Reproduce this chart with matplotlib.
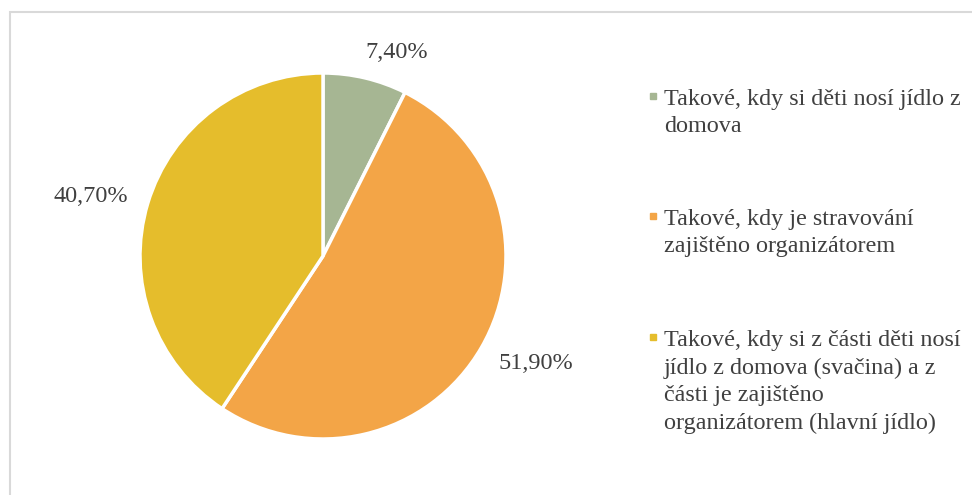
import numpy as np
import matplotlib.pyplot as plt
from matplotlib.patches import Rectangle

plt.rcParams['font.family'] = ['Liberation Serif', 'DejaVu Serif']

# share of each meal arrangement (%)
categories = [
    'Takové, kdy si děti nosí jídlo z\ndomova',
    'Takové, kdy je stravování\nzajištěno organizátorem',
    'Takové, kdy si z části děti nosí\njídlo z domova (svačina) a z\nčásti je zajištěno\norganizátorem (hlavní jídlo)',
]
shares = [7.40, 51.90, 40.70]
value_labels = ['7,40%', '51,90%', '40,70%']
colors = ['#A6B693', '#F3A547', '#E5BD2C']

# label radius and angular nudge (deg) for each value label
label_dist = [1.18, 1.30, 1.31]
label_nudge = [-6.5, 3.3, 2.4]

text_color = '#404040'

fig = plt.figure(figsize=(9.72, 4.95), dpi=100)
fig.patches.append(Rectangle((10 / 972, -0.1), 1.2, (495 - 12) / 495 + 0.1,
                             transform=fig.transFigure, fill=False,
                             edgecolor='#D9D9D9', linewidth=1.5))

ax = fig.add_axes([(323 - 183) / 972, (495 - 256 - 183) / 495, 366 / 972, 366 / 495])
wedges, _ = ax.pie(shares, colors=colors, startangle=90, counterclock=False,
                   wedgeprops=dict(edgecolor='white', linewidth=2.5))
ax.set_xlim(-1, 1)
ax.set_ylim(-1, 1)
ax.set_aspect('equal')

# percentage labels outside the wedges
for w, lab, d, nudge in zip(wedges, value_labels, label_dist, label_nudge):
    mid = np.deg2rad((w.theta1 + w.theta2) / 2 + nudge)
    ax.text(d * np.cos(mid), d * np.sin(mid), lab, ha='center', va='center',
            fontsize=17.5, color=text_color)

# legend drawn as squares with wrapped text
tops = [89, 209, 330]
for top, lab, c in zip(tops, categories, colors):
    fig.patches.append(Rectangle((650 / 972, 1 - (top + 10) / 495), 6 / 972, 6 / 495,
                                 transform=fig.transFigure, color=c))
    fig.text(664 / 972, 1 - top / 495, lab, ha='left', va='top',
             fontsize=17.4, color=text_color, linespacing=1.4)

fig.savefig('out.png', dpi=100)
